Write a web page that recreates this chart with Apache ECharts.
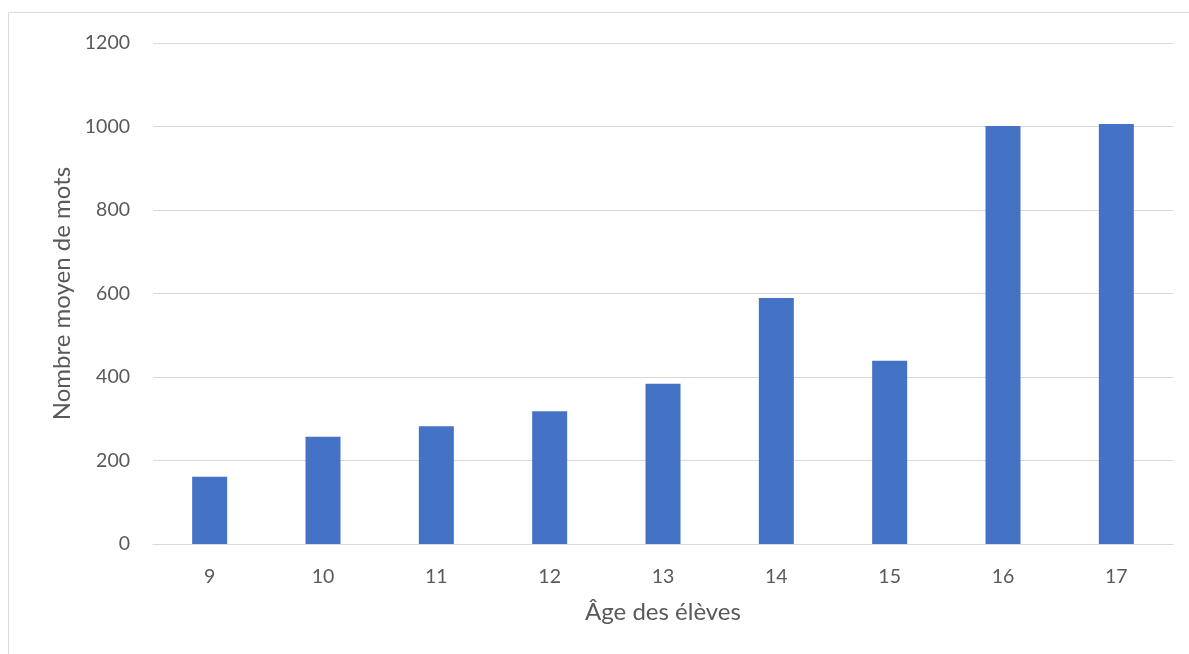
<!DOCTYPE html>
<html>
<head>
<meta charset="utf-8">
<script src="https://cdn.jsdelivr.net/npm/echarts@6/dist/echarts.min.js"></script>
<style>
html,body{margin:0;padding:0;background:#fff;}
#chart{width:1189px;height:654px;}
</style>
</head>
<body>
<div id="chart"></div>
<script>
var categories = ['9','10','11','12','13','14','15','16','17'];
var values = [161, 257, 282, 318, 384, 589, 439, 1001, 1006];
var yTicks = [0, 200, 400, 600, 800, 1000, 1200];
var xTitle = 'Âge des élèves';
var yTitle = 'Nombre moyen de mots';

var chart = echarts.init(document.getElementById('chart'));
var font = 'Lato, "Open Sans", sans-serif';
chart.setOption({
  animation: false,
  backgroundColor: '#ffffff',
  graphic: [{
    type: 'rect',
    shape: {x: 8.5, y: 12.5, width: 1200, height: 700},
    style: {fill: 'none', stroke: '#d9d9d9', lineWidth: 1},
    silent: true
  }],
  grid: {left: 153, right: 16, top: 43, bottom: 110, containLabel: false},
  xAxis: {
    type: 'category',
    data: categories,
    name: xTitle,
    nameLocation: 'middle',
    nameGap: 56,
    nameTextStyle: {color: '#595959', fontSize: 24, fontFamily: font},
    axisLine: {show: true, lineStyle: {color: '#d9d9d9', width: 1}},
    axisTick: {show: false},
    axisLabel: {color: '#595959', fontSize: 19.5, fontFamily: font, margin: 23}
  },
  yAxis: {
    type: 'value',
    min: yTicks[0],
    max: yTicks[yTicks.length - 1],
    interval: yTicks[1] - yTicks[0],
    name: yTitle,
    nameLocation: 'middle',
    nameGap: 77,
    nameRotate: 90,
    nameTextStyle: {color: '#595959', fontSize: 24, fontFamily: font},
    axisLine: {show: false},
    axisTick: {show: false},
    axisLabel: {color: '#595959', fontSize: 19.5, fontFamily: font, margin: 23,
      formatter: function (v) { return String(v); }},
    splitLine: {show: true, lineStyle: {color: '#d9d9d9', width: 1}}
  },
  series: [{
    type: 'bar',
    data: values,
    barWidth: 35,
    itemStyle: {color: '#4472c4'}
  }]
});
</script>
</body>
</html>
